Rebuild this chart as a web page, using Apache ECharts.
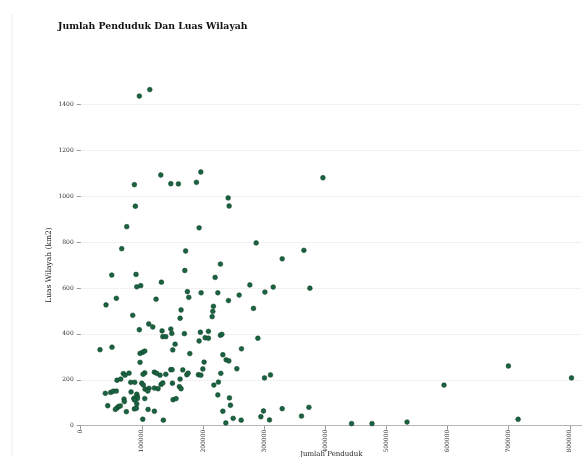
<!DOCTYPE html>
<html>
<head>
<meta charset="utf-8">
<script src="https://cdn.jsdelivr.net/npm/echarts@6/dist/echarts.min.js"></script>
<style>
  html, body { margin: 0; padding: 0; background: #fff; }
  #chart { width: 582px; height: 457px; }
</style>
</head>
<body>
<div id="chart"></div>
<script>
const chartTitle = 'Jumlah Penduduk Dan Luas Wilayah';
const xAxisName = 'Jumlah Penduduk';
const yAxisName = 'Luas Wilayah (km2)';

// Jumlah Penduduk (x) per wilayah
const penduduk = [
  95900, 113000, 131000, 87800, 147400, 159800, 189300, 196500, 396200, 241200,
  242800, 89400, 75300, 193700, 287000, 67100, 171600, 365100, 329600, 228600,
  50800, 90500, 170300, 219900, 91700, 98200, 132000, 174500, 176800, 58300,
  41400, 123300, 164200, 162600, 85100, 111300, 117900, 95900, 133100, 147400,
  149000, 169600, 276700, 197000, 224300, 259200, 301300, 314900, 374900, 241700,
  282600, 217100, 216100, 215000, 195800, 208900, 134300, 139200, 154400, 193700,
  31600, 51200, 150600, 178500, 97100, 101500, 104800, 97100, 104800, 102000,
  69700, 72500, 79100, 120500, 124400, 129800, 139200, 147400, 149500, 167000,
  173600, 175700, 192500, 59400, 65500, 81900, 88400, 99900, 102500, 131500,
  134300, 120500, 162600, 150000, 161400, 164200, 111800, 105300, 109700, 126600,
  82400, 40300, 49100, 53400, 58300, 91700, 92700, 86800, 88900, 92700,
  88400, 104800, 70900, 71400, 151100, 156000, 91700, 44200, 61600, 59400,
  56700, 64800, 87800, 91000, 74700, 110200, 120500, 101500, 135200, 203500,
  208900, 228600, 230900, 289800, 263000, 232500, 237900, 242300, 201900, 199800,
  255400, 229200, 196500, 300600, 310400, 225300, 217800, 224300, 243300, 244900,
  232500, 299000, 329600, 373300, 294700, 249400, 262500, 308800, 361200, 237400,
  443100, 476500, 533800, 594300, 715500, 699600, 802800
];

// Luas Wilayah (km2) (y) per wilayah
const luas = [
  1436, 1464, 1092, 1050, 1054, 1053, 1060, 1105, 1080, 992,
  957, 956, 867, 862, 796, 771, 761, 764, 727, 704,
  656, 659, 676, 646, 605, 610, 625, 584, 559, 555,
  526, 551, 504, 468, 481, 443, 430, 418, 413, 421,
  402, 401, 613, 579, 579, 569, 582, 604, 599, 545,
  511, 520, 498, 475, 407, 411, 388, 388, 355, 369,
  331, 342, 330, 314, 315, 320, 325, 276, 230, 224,
  227, 220, 229, 233, 228, 220, 224, 244, 244, 243,
  222, 229, 222, 198, 203, 189, 189, 185, 177, 180,
  186, 164, 203, 185, 170, 161, 163, 159, 151, 161,
  147, 141, 145, 150, 151, 137, 126, 118, 121, 118,
  111, 118, 116, 105, 113, 118, 95, 87, 83, 77,
  71, 86, 73, 76, 61, 71, 63, 28, 24, 383,
  381, 394, 398, 381, 335, 309, 287, 282, 277, 247,
  248, 228, 220, 208, 221, 190, 177, 134, 121, 89,
  63, 64, 74, 80, 39, 32, 24, 25, 42, 12,
  9, 9, 16, 177, 28, 260, 208
];

const xTickStep = 100000;
const yTickStep = 200;
const yTop = 1400;

const points = penduduk.map((v, i) => [v, luas[i]]);

const chart = echarts.init(document.getElementById('chart'), null, { renderer: 'canvas' });
const serif = 'DejaVu Serif';

chart.setOption({
  animation: false,
  backgroundColor: '#ffffff',
  title: {
    text: chartTitle,
    left: 53,
    top: 17,
    textStyle: { fontFamily: serif, fontSize: 9.3, fontWeight: 'bold', color: '#111' }
  },
  graphic: [{
    type: 'line',
    shape: { x1: 12, y1: 14, x2: 12, y2: 457 },
    style: { stroke: '#ececec', lineWidth: 1 }
  }],
  grid: { left: 80.7, right: 0, top: 104.3, bottom: 31.3, containLabel: false, outerBoundsMode: 'none' },
  xAxis: {
    type: 'value',
    min: 0,
    max: 820000,
    interval: xTickStep,
    name: xAxisName,
    nameLocation: 'middle',
    nameGap: 25,
    nameMoveOverlap: false,
    nameTextStyle: { fontFamily: serif, fontSize: 7, color: '#222' },
    axisLine: { show: true, lineStyle: { color: '#b5b5b5', width: 1 } },
    axisTick: { show: true, length: 4, lineStyle: { color: '#999' } },
    axisLabel: {
      rotate: 90,
      margin: 4,
      fontFamily: serif,
      fontSize: 6,
      color: '#333',
      formatter: v => (v % xTickStep === 0 ? String(v) : '')
    },
    splitLine: { show: false }
  },
  yAxis: {
    type: 'value',
    min: 0,
    max: yTop,
    interval: yTickStep,
    name: yAxisName,
    nameLocation: 'middle',
    nameGap: 28,
    nameMoveOverlap: false,
    nameRotate: 90,
    nameTextStyle: { fontFamily: serif, fontSize: 7.5, color: '#222' },
    axisLine: { show: false },
    axisTick: { show: true, length: 4, lineStyle: { color: '#999' } },
    axisLabel: {
      margin: 7,
      fontFamily: serif,
      fontSize: 6,
      color: '#333',
      formatter: v => String(v)
    },
    splitLine: { show: true, lineStyle: { color: '#ebebeb', width: 1, type: [2, 1] } }
  },
  series: [{
    type: 'scatter',
    data: points,
    clip: false,
    symbolSize: 4.8,
    itemStyle: { color: '#1a6340', borderColor: '#0f3f28', borderWidth: 0.5, opacity: 1 }
  }]
});
</script>
</body>
</html>
